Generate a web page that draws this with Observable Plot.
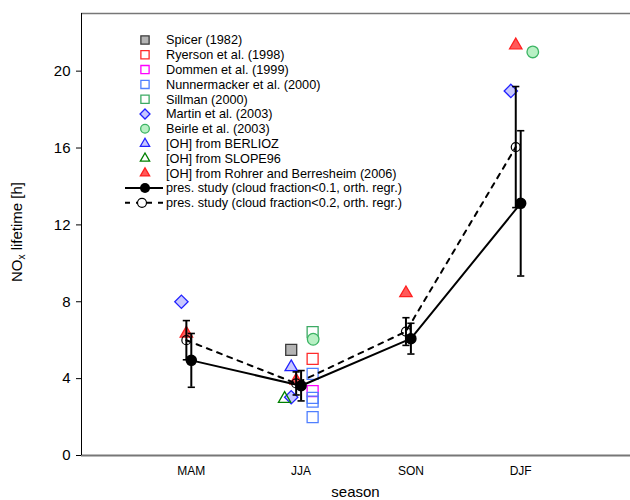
<!DOCTYPE html>
<html><head><meta charset="utf-8">
<script src="https://cdn.jsdelivr.net/npm/d3@7"></script>
<script src="https://cdn.jsdelivr.net/npm/@observablehq/plot@0.6"></script>
<style>body{margin:0;background:#fff} #chart{width:630px;height:500px}</style>
</head><body><div id="chart"></div><script>
// ---- data ----
const seasons = ["MAM", "JJA", "SON", "DJF"];
const yTicks = [0, 4, 8, 12, 16, 20];
const yMax = 23;

// literature values: [season, NOx lifetime in h]
const spicer1982 = [["JJA", 5.5]];
const ryerson1998 = [["JJA", 5.03]];
const dommen1999 = [["JJA", 3.35]];
const nunnermacker2000 = [["JJA", 4.25], ["JJA", 3.0], ["JJA", 2.8], ["JJA", 2.0]];
const sillman2000 = [["JJA", 6.42]];
const martin2003 = [["MAM", 8.0], ["JJA", 3.03], ["DJF", 18.97]];
const beirle2003 = [["JJA", 6.05], ["DJF", 21.0]];
const ohBerlioz = [["JJA", 4.6]];
const ohSlope96 = [["JJA", 2.95]];
const ohRohrer2006 = [["MAM", 6.35], ["JJA", 3.9], ["SON", 8.45], ["DJF", 21.35]];

// present study (per season)
const studyCf01 = [4.95, 3.63, 6.08, 13.12];
const studyCf01Err = [1.4, 0.79, 0.8, 3.78];
const studyCf02 = [6.0, 3.75, 6.45, 16.05];
const studyCf02Err = [1.02, 0.6, 0.72, 3.15];

const labelStudy01 = "pres. study (cloud fraction<0.1, orth. regr.)";
const labelStudy02 = "pres. study (cloud fraction<0.2, orth. regr.)";

// ---- styles ----
const literature = [
  {data: spicer1982, label: "Spicer (1982)", symbol: "square", fill: "#b4b4b4", stroke: "#3a3a3a", r: 6.2, dx: -0.09},
  {data: ryerson1998, label: "Ryerson et al. (1998)", symbol: "square", fill: "none", stroke: "#ff2a2a", r: 6.2, dx: 0.105},
  {data: dommen1999, label: "Dommen et al. (1999)", symbol: "square", fill: "none", stroke: "#ff00ff", r: 6.2, dx: 0.105},
  {data: nunnermacker2000, label: "Nunnermacker et al. (2000)", symbol: "square", fill: "none", stroke: "#4f7fff", r: 6.2, dx: 0.105},
  {data: sillman2000, label: "Sillman (2000)", symbol: "square", fill: "none", stroke: "#3caa64", r: 6.2, dx: 0.105},
  {data: martin2003, label: "Martin et al. (2003)", symbol: "diamond2", fill: "#c8c8ff", stroke: "#2222ff", r: 6, dx: -0.09},
  {data: beirle2003, label: "Beirle et al. (2003)", symbol: "circle", fill: "#b8f0c4", stroke: "#3cb464", r: 5.8, dx: 0.11},
  {data: ohBerlioz, label: "[OH] from BERLIOZ", symbol: "triangle", fill: "#c8c8ff", stroke: "#2222ff", r: 4.6, dx: -0.09},
  {data: ohSlope96, label: "[OH] from SLOPE96", symbol: "triangle", fill: "none", stroke: "#008000", r: 4.6, dx: -0.15},
  {data: ohRohrer2006, label: "[OH] from Rohrer and Berresheim (2006)", symbol: "triangle", fill: "#ff5a5a", stroke: "#ff2020", r: 4.6, dx: -0.045}
];
const offsetCf02 = -0.045;
const font = "'Liberation Sans', Arial, Helvetica, sans-serif";

const capSymbol = {draw(ctx) { ctx.moveTo(-3.6, 0); ctx.lineTo(3.6, 0); }};

const rows01 = seasons.map((s, i) => ({x: i + 1, y: studyCf01[i], lo: studyCf01[i] - studyCf01Err[i], hi: studyCf01[i] + studyCf01Err[i]}));
const rows02 = seasons.map((s, i) => ({x: i + 1 + offsetCf02, y: studyCf02[i], lo: studyCf02[i] - studyCf02Err[i], hi: studyCf02[i] + studyCf02Err[i]}));

const litMarks = literature.map(L => Plot.dot(L.data, {
  x: d => seasons.indexOf(d[0]) + 1 + L.dx,
  y: d => d[1],
  symbol: () => L.symbol,
  r: L.r, fill: L.fill, stroke: L.stroke, strokeWidth: 1.3
}));

const errMarks = rows => [
  Plot.ruleX(rows, {x: "x", y1: "lo", y2: "hi", stroke: "black", strokeWidth: 2}),
  Plot.dot(rows, {x: "x", y: "lo", symbol: capSymbol, fill: "none", stroke: "black", strokeWidth: 1.6}),
  Plot.dot(rows, {x: "x", y: "hi", symbol: capSymbol, fill: "none", stroke: "black", strokeWidth: 1.6})
];

const plot = Plot.plot({
  width: 630, height: 500,
  marginLeft: 81, marginRight: 0, marginTop: 13, marginBottom: 45,
  x: {domain: [0, 5], axis: null},
  y: {domain: [0, yMax], axis: null},
  style: {fontFamily: font, background: "white", color: "black"},
  marks: [
    Plot.ruleY([0], {stroke: "#777", strokeWidth: 2}),
    Plot.ruleY([yMax], {stroke: "#777", strokeWidth: 1.5}),
    Plot.ruleX([0], {stroke: "black", strokeWidth: 1}),
    Plot.axisY({ticks: yTicks, tickSize: 5, tickPadding: 6, fontSize: 15, label: null, anchor: "left"}),
    Plot.axisX({ticks: [1, 2, 3, 4], tickFormat: i => seasons[i - 1], tickSize: 0, tickPadding: 11, fontSize: 12, label: null, anchor: "bottom"}),
    ...litMarks,
    Plot.line(rows02, {x: "x", y: "y", stroke: "black", strokeWidth: 2, strokeDasharray: "5,6"}),
    Plot.line(rows01, {x: "x", y: "y", stroke: "black", strokeWidth: 2}),
    ...errMarks(rows02),
    ...errMarks(rows01),
    Plot.dot(rows02, {x: "x", y: "y", r: 4.5, fill: "none", stroke: "black", strokeWidth: 1.2}),
    Plot.dot(rows01, {x: "x", y: "y", r: 5, fill: "black", stroke: "black"})
  ]
});

document.getElementById("chart").appendChild(plot);
const svg = d3.select(plot);
const xr = plot.scale("x").range, yr = plot.scale("y").range;

// axis titles
const yl = svg.append("text")
  .attr("transform", `translate(22,${(yr[0] + yr[1]) / 2 - 2}) rotate(-90)`)
  .attr("text-anchor", "middle").attr("font-size", 15).attr("font-family", font).attr("fill", "black");
yl.append("tspan").text("NO");
yl.append("tspan").attr("font-size", 10).attr("dy", 3).text("x");
yl.append("tspan").attr("dy", -3).text(" lifetime [h]");

svg.append("text").attr("x", (xr[0] + xr[1]) / 2).attr("y", 497)
  .attr("text-anchor", "middle").attr("font-size", 15).attr("font-family", font).attr("fill", "black")
  .text("season");

// legend
const lg = svg.append("g").attr("font-family", font).attr("font-size", 12.7).attr("text-anchor", "start").attr("fill", "black");
const ly0 = 40, lstep = 14.8, lsx = 145, ltx = 166;
const symMap = {square: d3.symbolSquare, diamond2: d3.symbolDiamond2, circle: d3.symbolCircle, triangle: d3.symbolTriangle};
literature.forEach((L, i) => {
  const y = ly0 + i * lstep;
  const rr = L.r * 0.75;
  lg.append("path").attr("transform", `translate(${lsx},${y})`)
    .attr("d", d3.symbol(symMap[L.symbol], Math.PI * rr * rr)())
    .attr("fill", L.fill === "none" ? "white" : L.fill).attr("stroke", L.stroke).attr("stroke-width", 1.3);
  lg.append("text").attr("x", ltx).attr("y", y).attr("dy", "0.35em").text(L.label);
});
{
  const y = ly0 + literature.length * lstep;
  lg.append("line").attr("x1", 125).attr("x2", 163).attr("y1", y).attr("y2", y).attr("stroke", "black").attr("stroke-width", 2);
  lg.append("circle").attr("cx", lsx).attr("cy", y).attr("r", 5).attr("fill", "black");
  lg.append("text").attr("x", ltx).attr("y", y).attr("dy", "0.35em").text(labelStudy01);
  const y2 = y + lstep;
  lg.append("line").attr("x1", 125).attr("x2", 163).attr("y1", y2).attr("y2", y2).attr("stroke", "black").attr("stroke-width", 2).attr("stroke-dasharray", "5,6");
  lg.append("circle").attr("cx", lsx - 3).attr("cy", y2).attr("r", 4.5).attr("fill", "white").attr("stroke", "black").attr("stroke-width", 1.2);
  lg.append("text").attr("x", ltx).attr("y", y2).attr("dy", "0.35em").text(labelStudy02);
}
</script></body></html>
